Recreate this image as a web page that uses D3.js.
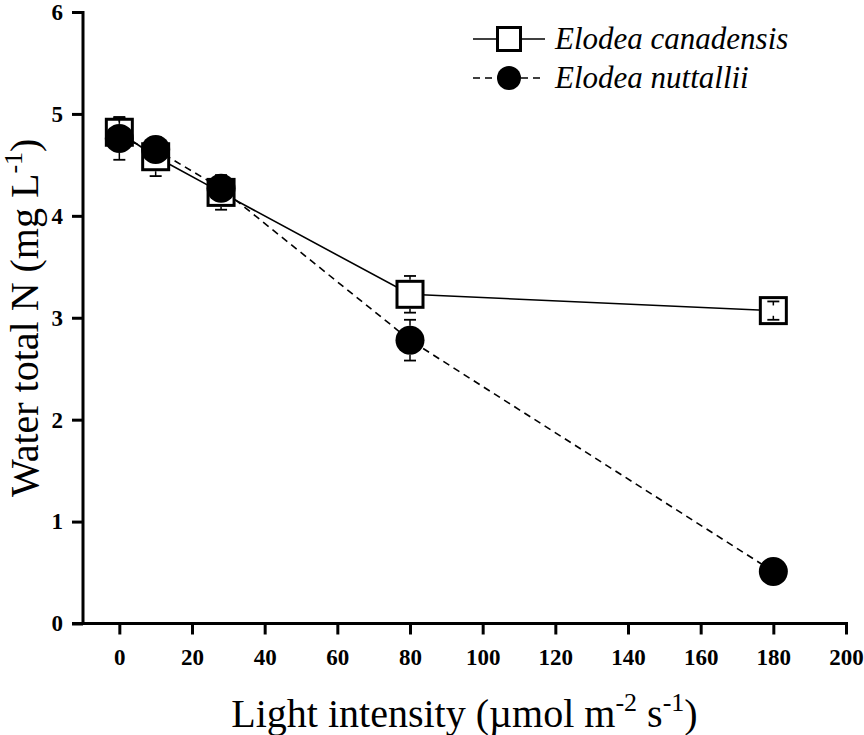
<!DOCTYPE html>
<html>
<head>
<meta charset="utf-8">
<script src="https://cdn.jsdelivr.net/npm/d3@7"></script>
<style>
  body { margin: 0; background: #fff; }
  svg { display: block; }
</style>
</head>
<body>
<div id="chart"></div>
<script>
const width = 864
const height = 735

const lightLevels = [0, 10, 28, 80, 180]
const canadensisMean = [4.82, 4.58, 4.23, 3.23, 3.07]
const canadensisSE = [0.14, 0.19, 0.17, 0.18, 0.09]
const nuttalliiMean = [4.76, 4.65, 4.27, 2.78, 0.51]
const nuttalliiSE = [0.21, 0.06, 0.08, 0.2, 0.05]

const xTicks = [0, 20, 40, 60, 80, 100, 120, 140, 160, 180, 200]
const yTicks = [0, 1, 2, 3, 4, 5, 6]
const seriesNames = ['Elodea canadensis', 'Elodea nuttallii']

const serif = "'Liberation Serif'"

const svg = d3
  .select('#chart')
  .append('svg')
  .attr('width', width)
  .attr('height', height)

const x = d3.scaleLinear().domain([-10, 200]).range([83, 846])
const y = d3.scaleLinear().domain([0, 6]).range([623.5, 12])

// axes
const xAxis = svg
  .append('g')
  .attr('transform', `translate(0,${y(0)})`)
  .call(
    d3.axisBottom(x)
      .tickValues(xTicks)
      .tickFormat(d3.format('d'))
      .tickSize(11)
      .tickSizeOuter(0)
      .tickPadding(14)
  )
xAxis.select('.domain').attr('stroke-width', 3).attr('d', `M${x(-10) - 11},0H${x(200) + 2}`)
xAxis.selectAll('.tick line').attr('stroke-width', 3).attr('y1', 1)
xAxis
  .selectAll('.tick text')
  .style('font-family', serif)
  .style('font-weight', 'bold')
  .style('font-size', '23px')
  .attr('fill', '#000')

const yAxis = svg
  .append('g')
  .attr('transform', `translate(${x(-10)},0)`)
  .call(
    d3.axisLeft(y)
      .tickValues(yTicks)
      .tickFormat(d3.format('d'))
      .tickSize(11)
      .tickSizeOuter(0)
      .tickPadding(9)
  )
yAxis.select('.domain').attr('stroke-width', 3).attr('d', `M0,${y(6) - 1}V${y(0)}`)
yAxis.selectAll('.tick line').attr('stroke-width', 3)
yAxis
  .selectAll('.tick text')
  .style('font-family', serif)
  .style('font-weight', 'bold')
  .style('font-size', '23px')
  .attr('fill', '#000')

// axis titles
const xTitle = svg
  .append('text')
  .attr('x', (x(-10) + x(200)) / 2)
  .attr('y', 727)
  .attr('text-anchor', 'middle')
  .style('font-family', serif)
  .style('font-size', '40px')
xTitle.append('tspan').text('Light intensity (µmol m')
xTitle.append('tspan').style('font-size', '26px').attr('dy', -16).text('-2')
xTitle.append('tspan').attr('dy', 16).text(' s')
xTitle.append('tspan').style('font-size', '26px').attr('dy', -16).text('-1')
xTitle.append('tspan').attr('dy', 16).text(')')

const yTitle = svg
  .append('text')
  .attr('transform', `translate(38,${(y(0) + y(6)) / 2}) rotate(-90)`)
  .attr('text-anchor', 'middle')
  .style('font-family', serif)
  .style('font-size', '40px')
yTitle.append('tspan').text('Water total N (mg L')
yTitle.append('tspan').style('font-size', '26px').attr('dy', -16).text('-1')
yTitle.append('tspan').attr('dy', 16).text(')')

const canadensis = lightLevels.map((d, i) => ({ x: d, mean: canadensisMean[i], se: canadensisSE[i] }))
const nuttallii = lightLevels.map((d, i) => ({ x: d, mean: nuttalliiMean[i], se: nuttalliiSE[i] }))

const line = d3
  .line()
  .x(d => x(d.x))
  .y(d => y(d.mean))

const squareSize = 26
const circleR = 14.5

// error bar: stem from marker edge out to cap, or a short stub if the cap is inside the marker
function errorBars(g, data, half) {
  data.forEach(d => {
    const cx = x(d.x)
    const cy = y(d.mean)
    ;[1, -1].forEach(dir => {
      const capY = y(d.mean + dir * d.se)
      const dist = Math.abs(capY - cy)
      const edge = dist > half ? cy - dir * half : capY + dir * 4
      g.append('line')
        .attr('x1', cx).attr('x2', cx)
        .attr('y1', capY).attr('y2', edge)
        .attr('stroke', '#000').attr('stroke-width', 1.5)
      g.append('line')
        .attr('x1', cx - 6).attr('x2', cx + 6)
        .attr('y1', capY).attr('y2', capY)
        .attr('stroke', '#000').attr('stroke-width', 1.8)
    })
  })
}

// Elodea canadensis: solid line, open squares
const gCan = svg.append('g')
gCan
  .append('path')
  .datum(canadensis)
  .attr('d', line)
  .attr('fill', 'none')
  .attr('stroke', '#000')
  .attr('stroke-width', 1.6)
gCan
  .selectAll('rect')
  .data(canadensis)
  .enter()
  .append('rect')
  .attr('x', d => x(d.x) - squareSize / 2)
  .attr('y', d => y(d.mean) - squareSize / 2)
  .attr('width', squareSize)
  .attr('height', squareSize)
  .attr('fill', '#fff')
  .attr('stroke', '#000')
  .attr('stroke-width', 3)
errorBars(gCan.append('g'), canadensis, squareSize / 2 + 1.5)

// Elodea nuttallii: dashed line, filled circles
const gNut = svg.append('g')
gNut
  .append('path')
  .datum(nuttallii)
  .attr('d', line)
  .attr('fill', 'none')
  .attr('stroke', '#000')
  .attr('stroke-width', 1.6)
  .attr('stroke-dasharray', '7,5')
errorBars(gNut.append('g'), nuttallii, circleR)
gNut
  .selectAll('circle')
  .data(nuttallii)
  .enter()
  .append('circle')
  .attr('cx', d => x(d.x))
  .attr('cy', d => y(d.mean))
  .attr('r', circleR)
  .attr('fill', '#000')

// legend
const legend = svg.append('g')
const legendRows = [39, 78]
legendRows.forEach((ly, i) => {
  legend
    .append('line')
    .attr('x1', 473).attr('x2', 545)
    .attr('y1', ly).attr('y2', ly)
    .attr('stroke', '#000')
    .attr('stroke-width', 1.6)
    .attr('stroke-dasharray', i === 0 ? null : '7,5')
  if (i === 0) {
    legend
      .append('rect')
      .attr('x', 509 - 11.5).attr('y', ly - 11.5)
      .attr('width', 23).attr('height', 23)
      .attr('fill', '#fff').attr('stroke', '#000').attr('stroke-width', 3)
  } else {
    legend.append('circle').attr('cx', 509).attr('cy', ly).attr('r', 12).attr('fill', '#000')
  }
  legend
    .append('text')
    .attr('x', 555)
    .attr('y', ly + 10)
    .style('font-family', serif)
    .style('font-style', 'italic')
    .style('font-size', '31px')
    .text(seriesNames[i])
})
</script>
</body>
</html>
